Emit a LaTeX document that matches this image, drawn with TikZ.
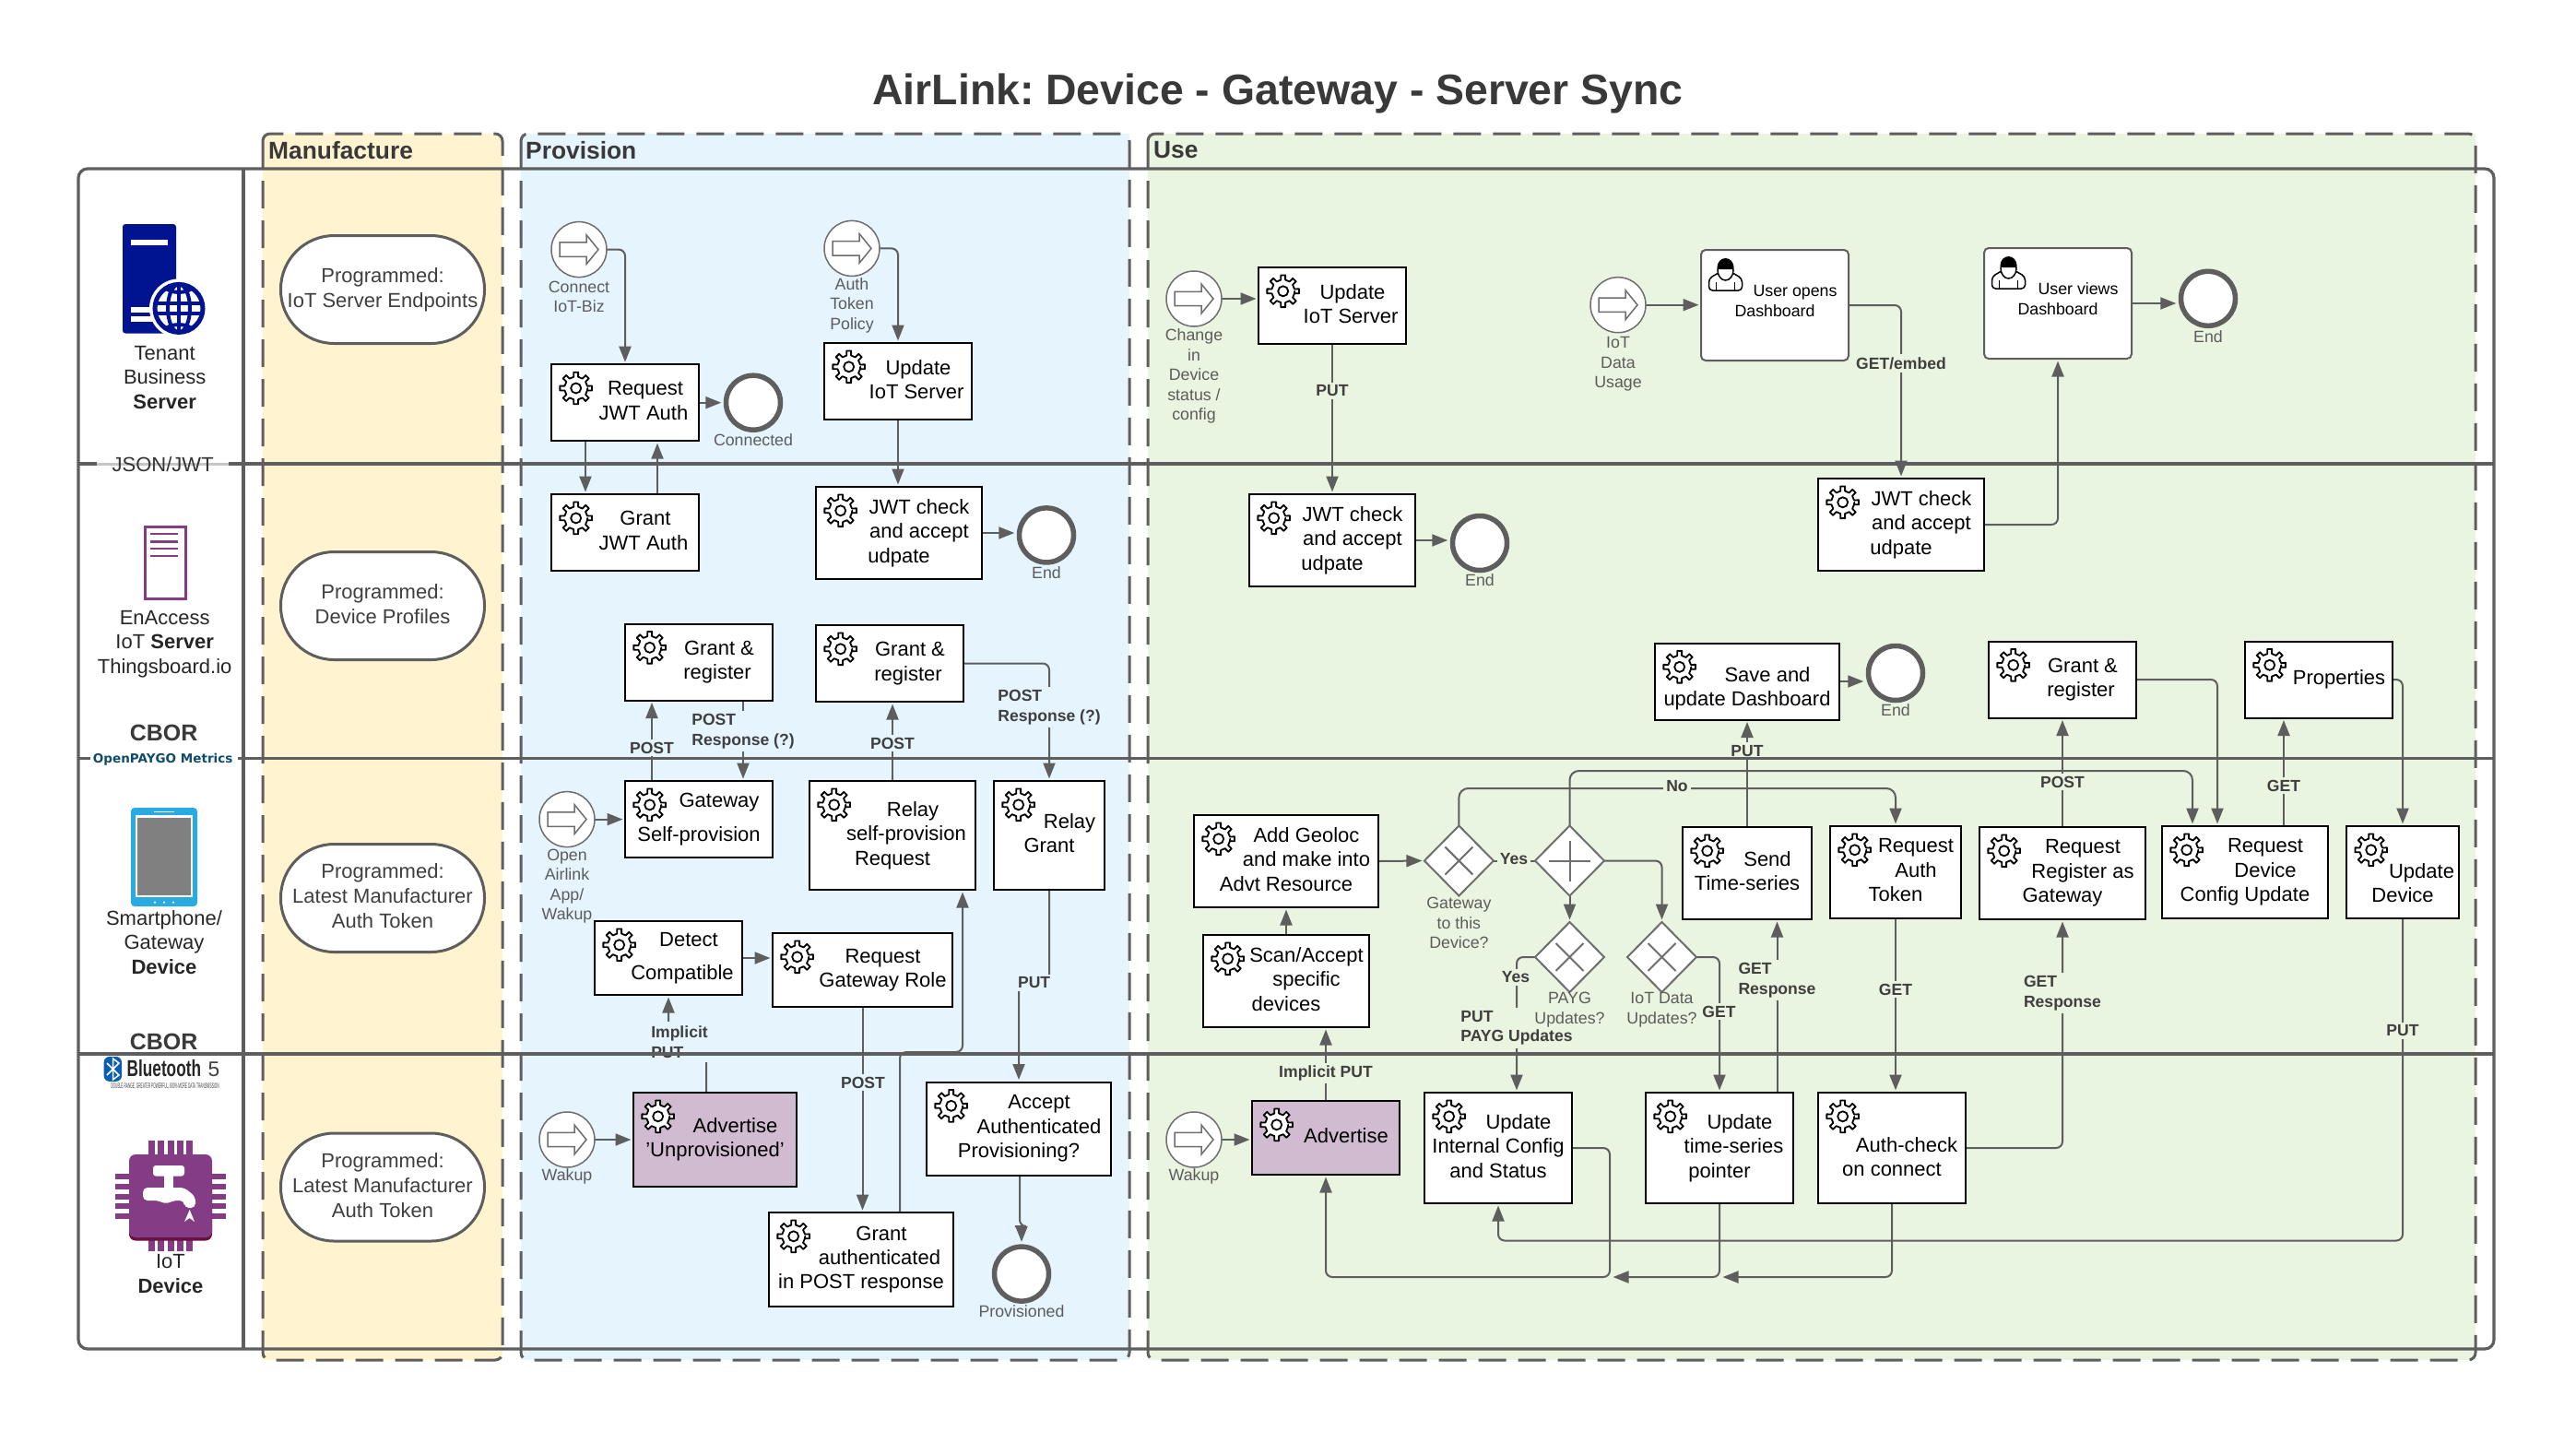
\documentclass[tikz,border=0pt]{standalone}
\usepackage{fontspec}
\usepackage{graphicx}
\setmainfont{Liberation Sans}
\newfontfamily\metricsfont{DejaVu Sans}
\usetikzlibrary{arrows.meta}
\usetikzlibrary{shapes.geometric}
\definecolor{linegray}{HTML}{5E5E5E}
\definecolor{labelgray}{HTML}{3F3F3F}
\definecolor{eventgray}{HTML}{6E6E6E}
\definecolor{makeyellow}{HTML}{FFF3D0}
\definecolor{provblue}{HTML}{E6F4FE}
\definecolor{usegreen}{HTML}{E9F5E0}
\definecolor{advertpurple}{HTML}{D0BBD1}
\definecolor{serverblue}{HTML}{001391}
\definecolor{chippurple}{HTML}{843C85}
\definecolor{chipdark}{HTML}{6B1040}
\definecolor{phoneblue}{HTML}{29ABE2}
\definecolor{metricsblue}{HTML}{0F4C6B}
\definecolor{btblue}{HTML}{0A5EB0}
\pgfdeclarelayer{panels}
\pgfdeclarelayer{wires}
\pgfdeclarelayer{wirelabels}
\pgfdeclarelayer{lanes}
\pgfsetlayers{panels,wires,wirelabels,lanes,main}
\tikzset{
  bodytext/.style={font=\fontsize{6.26pt}{7.51pt}\selectfont},
  smalltext/.style={font=\fontsize{5.06pt}{6.12pt}\selectfont,text=labelgray!85,align=center,inner sep=0},
  task/.style={draw=black,line width=0.02cm,fill=white,rectangle,align=center,inner sep=0,outer sep=0,bodytext,
    execute at end node={\rule[-0.045cm]{0pt}{0pt}}},
  advert/.style={task,fill=advertpurple},
  usertask/.style={task,draw=linegray,rounded corners=0.05cm,font=\fontsize{5.06pt}{6.3pt}\selectfont,
    execute at end node={\rule[-0.1cm]{0pt}{0pt}}},
  programmed/.style={draw=linegray,line width=0.03cm,fill=white,rounded corners=0.58cm,minimum width=2.21cm,minimum height=1.17cm,align=center,inner sep=0,text=labelgray,
    font=\fontsize{6.26pt}{7.7pt}\selectfont,execute at end node={\rule[-0.045cm]{0pt}{0pt}}},
  startevent/.style={circle,draw=eventgray,line width=0.015cm,fill=white,minimum size=0.6cm,inner sep=0,outer sep=0},
  endevent/.style={circle,draw=linegray,line width=0.055cm,fill=white,minimum size=0.59cm,inner sep=0,outer sep=0.0275cm},
  gate/.style={diamond,draw=eventgray,line width=0.02cm,fill=white,minimum width=0.75cm,minimum height=0.76cm,inner sep=0,outer sep=0},
  xgate/.style={gate,path picture={\draw[eventgray,line width=0.02cm] (path picture bounding box.center) ++(-0.15,-0.15) -- ++(0.3,0.3) ++(-0.3,0) -- ++(0.3,-0.3);}},
  plusgate/.style={gate,path picture={\draw[eventgray,line width=0.02cm] (path picture bounding box.center) ++(-0.225,0) -- ++(0.45,0) ++(-0.225,-0.22) -- ++(0,0.44);}},
  wire/.style={draw=linegray,line width=0.02cm,rounded corners=0.07cm},
  flow/.style={wire,-{Triangle[length=0.17cm,width=0.13cm]},shorten >=0.025cm},
  wirelabel/.style={font=\fontsize{5pt}{6.12pt}\bfseries\selectfont,text=labelgray,align=left,inner sep=0.03cm},
  provlabel/.style={wirelabel,fill=provblue},
  uselabel/.style={wirelabel,fill=usegreen},
  laneline/.style={draw=linegray,line width=0.032cm},
  panel/.style={dash pattern=on 0.3cm off 0.13cm,draw=linegray,line width=0.03cm,rounded corners=0.08cm},
  lanetitle/.style={font=\fontsize{7.5pt}{9pt}\bfseries\selectfont,text=labelgray!90!black,anchor=west,inner sep=0},
  sidetext/.style={bodytext,align=center,inner sep=0,text=black!85},
  gearicon/.pic={
    \filldraw[draw=black,fill=white,line width=0.018cm,line join=round]
      (0:0.125) \foreach \a in {0,45,...,315} {
        -- (\a-11:0.125) -- (\a-8:0.175) -- (\a+8:0.175) -- (\a+11:0.125) -- (\a+34:0.125)
      } -- cycle;
    \draw[black,line width=0.018cm] (0,0) circle (0.055);
  },
  starticon/.pic={
    \draw[eventgray,line width=0.015cm,line join=miter,fill=white]
      (-0.21,0.077) -- (0.08,0.077) -- (0.08,0.16) -- (0.21,0) -- (0.08,-0.16) -- (0.08,-0.077) -- (-0.21,-0.077) -- cycle;
  },
  usericon/.pic={
    \draw[black,line width=0.015cm,fill=white,rounded corners=0.04cm]
      (-0.18,-0.17) -- (-0.18,-0.04) -- (-0.06,0.03) -- (0.06,0.03) -- (0.18,-0.04) -- (0.18,-0.17) -- cycle;
    \fill[white] (0,0.05) ellipse (0.085 and 0.11);
    \draw[black,line width=0.015cm] (0,0.05) ellipse (0.085 and 0.11);
    \fill[black] (-0.09,0.08) arc (180:0:0.09 and 0.1) -- (0.07,0.06) -- (-0.07,0.06) -- cycle;
    \draw[black,line width=0.015cm] (-0.1,-0.17) -- (-0.1,-0.08) (0.1,-0.17) -- (0.1,-0.08);
  }
}
\begin{document}
\begin{tikzpicture}
\useasboundingbox (0,0) rectangle (27.94,-15.64);

% Drawing the three phase panels
\begin{pgfonlayer}{panels}
\fill[makeyellow] (2.85,-1.45) rectangle (5.45,-14.75);
\fill[provblue] (5.65,-1.45) rectangle (12.25,-14.75);
\fill[usegreen] (12.45,-1.45) rectangle (26.85,-14.75);
\end{pgfonlayer}

\begin{pgfonlayer}{lanes}
\draw[laneline,rounded corners=0.1cm] (0.85,-1.83) rectangle (27.05,-14.63);
\draw[laneline,line width=0.04cm] (2.64,-1.83) -- (2.64,-14.63);
\draw[black!22,line width=0.03cm] (1.05,-5.03) -- (2.48,-5.03);
\draw[laneline] (0.85,-5.03) -- (1.05,-5.03);
\draw[laneline] (2.48,-5.03) -- (27.05,-5.03);
\draw[laneline] (0.85,-8.225) -- (0.98,-8.225);
\draw[laneline] (2.58,-8.225) -- (27.05,-8.225);
\draw[laneline] (0.85,-11.43) -- (27.05,-11.43);
\draw[panel] (2.85,-1.45) rectangle (5.45,-14.75);
\draw[panel] (5.65,-1.45) rectangle (12.25,-14.75);
\draw[panel] (12.45,-1.45) rectangle (26.85,-14.75);
\end{pgfonlayer}

\node[font=\fontsize{13.2pt}{16pt}\bfseries\selectfont\frenchspacing,text=labelgray!90!black,inner sep=0] (title) at (13.86,-1.01) {AirLink: Device - Gateway - Server Sync};
\node[lanetitle] (titlemake) at (2.905,-1.63) {Manufacture};
\node[lanetitle] (titleprov) at (5.695,-1.63) {Provision};
\node[lanetitle] (titleuse) at (12.505,-1.63) {Use};

% Drawing the left column
\fill[serverblue,rounded corners=0.03cm] (1.33,-3.615) -- (1.33,-2.43) -- (1.91,-2.43) -- (1.91,-3.615) -- cycle;
\fill[white] (1.42,-2.6) rectangle (1.82,-2.66);
\fill[white] (1.42,-3.33) rectangle (1.9,-3.39);
\fill[white] (1.42,-3.43) rectangle (1.9,-3.49);
\fill[white] (1.94,-3.344) circle (0.32);
\draw[serverblue,line width=0.05cm] (1.94,-3.344) circle (0.26);
\begin{scope}
\clip (1.94,-3.344) circle (0.26);
\draw[serverblue,line width=0.04cm] (1.94,-3.344) ellipse (0.12 and 0.26);
\draw[serverblue,line width=0.04cm] (1.94,-3.6) -- (1.94,-3.09);
\draw[serverblue,line width=0.04cm] (1.68,-3.29) -- (2.2,-3.29) (1.68,-3.4) -- (2.2,-3.4);
\draw[serverblue,line width=0.04cm] (1.94,-2.9) circle (0.27) (1.94,-3.79) circle (0.27);
\end{scope}
\node[sidetext] (sideserver) at (1.787,-4.095) {Tenant\\Business\\\textbf{Server}};
\node[sidetext,text=black!80] (sidejson) at (1.767,-5.035) {JSON/JWT};

\draw[chippurple,line width=0.03cm,fill=white] (1.57,-5.71) rectangle (2.01,-6.49);
\foreach \y in {-5.79,-5.874,-5.95,-6.03} {
  \draw[chippurple,line width=0.025cm] (1.63,\y) -- (1.93,\y);
}
\node[sidetext] (sideenaccess) at (1.787,-6.985) {EnAccess\\IoT \textbf{Server}\\Thingsboard.io};
\node[font=\fontsize{7.1pt}{8.5pt}\bfseries\selectfont,text=labelgray!90!black,inner sep=0] (sidecborone) at (1.777,-7.95) {CBOR};
\node[font=\fontsize{3.85pt}{4.6pt}\metricsfont\bfseries\selectfont,text=metricsblue,inner sep=0] (sidemetrics) at (1.767,-8.235) {OpenPAYGO Metrics};

\fill[phoneblue,rounded corners=0.04cm] (1.42,-8.76) rectangle (2.14,-9.83);
\fill[white] (1.47,-8.84) rectangle (2.09,-9.73);
\fill[gray] (1.49,-8.866) rectangle (2.07,-9.705);
\draw[white,line width=0.008cm] (1.67,-8.8) -- (1.89,-8.8);
\foreach \x in {1.68,1.78,1.88} {
  \fill[white] (\x,-9.786) circle (0.012);
}
\node[sidetext] (sidephone) at (1.78,-10.22) {Smartphone/\\Gateway\\\textbf{Device}};
\node[font=\fontsize{7.1pt}{8.5pt}\bfseries\selectfont,text=labelgray!90!black,inner sep=0.02cm,fill=white] (sidecbortwo) at (1.777,-11.3) {CBOR};

\fill[btblue,rounded corners=0.06cm] (1.127,-11.46) rectangle (1.32,-11.728);
\draw[white,line width=0.015cm] (1.16,-11.53) -- (1.29,-11.66) -- (1.225,-11.71) -- (1.225,-11.48) -- (1.29,-11.53) -- (1.16,-11.66);
\node[font=\fontsize{7.1pt}{8pt}\bfseries\selectfont,text=black!85,inner sep=0,anchor=west] (sidebt) at (1.37,-11.59) {\scalebox{0.69}[1]{Bluetooth}};
\node[font=\fontsize{6.5pt}{7pt}\selectfont,text=labelgray,inner sep=0] (sidebtfive) at (2.32,-11.6) {5};
\node[font=\fontsize{2.3pt}{3pt}\selectfont,text=labelgray,inner sep=0] (sidebtnote) at (1.79,-11.786) {\scalebox{0.4}[1]{DOUBLE RANGE, GREATER POWERFUL, 800\% MORE DATA TRANSMISSION}};

\foreach \x in {1.613,1.71,1.82,1.92,2.02} {
  \fill[chippurple] (\x,-12.37) rectangle (\x+0.07,-13.57);
}
\foreach \y in {-12.73,-12.84,-12.945,-13.05,-13.16} {
  \fill[chippurple] (1.247,\y) rectangle (2.45,\y-0.06);
}
\fill[chipdark,rounded corners=0.07cm] (1.4,-12.8) rectangle (2.3,-13.455);
\fill[chippurple,rounded corners=0.07cm] (1.4,-12.52) rectangle (2.3,-13.42);
\fill[white,rounded corners=0.03cm] (1.66,-12.64) rectangle (2.0,-12.755);
\fill[white] (1.78,-12.75) rectangle (1.88,-12.9);
\fill[white,rounded corners=0.05cm] (1.55,-12.88) -- (2.0,-12.88) -- (2.12,-12.98) -- (2.12,-13.1) -- (2.0,-13.1) -- (2.0,-13.02) -- (1.88,-13.02) -- (1.8,-13.06) -- (1.72,-13.02) -- (1.55,-13.02) -- cycle;
\fill[white] (2.057,-13.12) -- (2.11,-13.25) -- (2.057,-13.21) -- (2.0,-13.25) -- cycle;
\node[sidetext] (sideiot) at (1.85,-13.815) {IoT\\\textbf{Device}};

% Drawing the manufacture lane
\node[programmed] (progendpoints) at (4.15,-3.14) {Programmed:\\IoT Server Endpoints};
\node[programmed] (progprofiles) at (4.15,-6.57) {Programmed:\\Device Profiles};
\node[programmed] (progtokena) at (4.15,-9.74) {Programmed:\\Latest Manufacturer\\Auth Token};
\node[programmed] (progtokenb) at (4.15,-12.875) {Programmed:\\Latest Manufacturer\\Auth Token};

% Drawing the provision lane
\node[startevent] (startconnect) at (6.28,-2.706) {};
\node[smalltext] (lblconnect) at (6.28,-3.22) {Connect\\IoT-Biz};
\node[startevent] (starttoken) at (9.24,-2.694) {};
\node[smalltext] (lbltoken) at (9.24,-3.31) {Auth\\Token\\Policy};
\node[task,minimum width=1.6cm,minimum height=0.83cm] (reqjwt) at (6.78,-4.367) {\hspace*{0.44cm}Request\\\hspace*{0.4cm}JWT Auth};
\node[endevent] (endconnected) at (8.17,-4.367) {};
\node[smalltext] (lblconnected) at (8.17,-4.775) {Connected};
\node[task,minimum width=1.6cm,minimum height=0.83cm] (updiotprov) at (9.74,-4.135) {\hspace*{0.44cm}Update\\\hspace*{0.4cm}IoT Server};
\node[task,minimum width=1.6cm,minimum height=0.83cm] (grantjwt) at (6.78,-5.776) {\hspace*{0.44cm}Grant\\\hspace*{0.4cm}JWT Auth};
\node[task,minimum width=1.8cm,minimum height=1.0cm] (jwtprov) at (9.75,-5.78) {\hspace*{0.44cm}JWT check\\\hspace*{0.44cm}and accept\\udpate};
\node[endevent] (endjwtprov) at (11.35,-5.804) {};
\node[smalltext] (lblendjwtprov) at (11.35,-6.21) {End};
\node[task,minimum width=1.6cm,minimum height=0.83cm] (grantrega) at (7.58,-7.18) {\hspace*{0.44cm}Grant \&\\\hspace*{0.4cm}register};
\node[task,minimum width=1.6cm,minimum height=0.83cm] (grantregb) at (9.65,-7.195) {\hspace*{0.44cm}Grant \&\\\hspace*{0.4cm}register};
\node[startevent] (startopen) at (6.15,-8.886) {};
\node[smalltext] (lblopen) at (6.15,-9.61) {Open\\Airlink\\App/\\Wakup};
\node[task,minimum width=1.6cm,minimum height=0.83cm] (gwself) at (7.58,-8.886) {\hspace*{0.44cm}Gateway\\[0.1cm]Self-provision};
\node[task,minimum width=1.8cm,minimum height=1.18cm] (relayself) at (9.68,-9.06) {\hspace*{0.44cm}Relay\\\hspace*{0.3cm}self-provision\\Request};
\node[task,minimum width=1.2cm,minimum height=1.18cm] (relaygrant) at (11.38,-9.06) {\hspace*{0.44cm}Relay\\Grant};
\node[task,minimum width=1.6cm,minimum height=0.8cm] (detect) at (7.25,-10.39) {\hspace*{0.44cm}Detect\\[0.1cm]\hspace*{0.3cm}Compatible};
\node[task,minimum width=1.95cm,minimum height=0.8cm] (reqrole) at (9.355,-10.52) {\hspace*{0.44cm}Request\\\hspace*{0.44cm}Gateway Role};
\node[advert,minimum width=1.77cm,minimum height=1.02cm] (advunprov) at (7.755,-12.36) {\hspace*{0.44cm}Advertise\\'Unprovisioned'};
\node[startevent] (startwakeprov) at (6.15,-12.36) {};
\node[smalltext] (lblwakeprov) at (6.15,-12.76) {Wakup};
\node[task,minimum width=2.0cm,minimum height=1.02cm] (grantauth) at (9.34,-13.66) {\hspace*{0.44cm}Grant\\\hspace*{0.4cm}authenticated\\in POST response};
\node[task,minimum width=2.0cm,minimum height=1.01cm] (accept) at (11.05,-12.24) {\hspace*{0.44cm}Accept\\\hspace*{0.44cm}Authenticated\\Provisioning?};
\node[endevent] (endprov) at (11.08,-13.816) {};
\node[smalltext] (lblendprov) at (11.08,-14.22) {Provisioned};

% Drawing the use lane
\node[startevent] (startchange) at (12.95,-3.24) {};
\node[smalltext] (lblchange) at (12.95,-4.08) {Change\\in\\Device\\status /\\config};
\node[task,minimum width=1.6cm,minimum height=0.83cm] (updiotuse) at (14.45,-3.315) {\hspace*{0.44cm}Update\\\hspace*{0.4cm}IoT Server};
\node[task,minimum width=1.8cm,minimum height=1.0cm] (jwtuse) at (14.45,-5.86) {\hspace*{0.44cm}JWT check\\\hspace*{0.44cm}and accept\\udpate};
\node[endevent] (endjwtuse) at (16.05,-5.89) {};
\node[smalltext] (lblendjwtuse) at (16.05,-6.29) {End};
\node[startevent] (startusage) at (17.55,-3.307) {};
\node[smalltext] (lblusage) at (17.55,-3.95) {IoT\\Data\\Usage};
\node[usertask,minimum width=1.6cm,minimum height=1.2cm] (useropens) at (19.25,-3.31) {\hspace*{0.44cm}User opens\\Dashboard};
\node[usertask,minimum width=1.6cm,minimum height=1.2cm] (userviews) at (22.32,-3.29) {\hspace*{0.44cm}User views\\Dashboard};
\node[endevent] (enduser) at (23.95,-3.238) {};
\node[smalltext] (lblenduser) at (23.95,-3.647) {End};
\node[task,minimum width=1.8cm,minimum height=1.0cm] (jwtdash) at (20.62,-5.69) {\hspace*{0.44cm}JWT check\\\hspace*{0.44cm}and accept\\udpate};
\node[task,minimum width=2.0cm,minimum height=0.83cm] (savedash) at (18.95,-7.39) {\rule{0pt}{0.31cm}\hspace*{0.44cm}Save and\\update Dashboard};
\node[endevent] (endsave) at (20.56,-7.3) {};
\node[smalltext] (lblendsave) at (20.56,-7.704) {End};
\node[task,minimum width=1.6cm,minimum height=0.83cm] (grantreguse) at (22.37,-7.37) {\hspace*{0.44cm}Grant \&\\\hspace*{0.4cm}register};
\node[task,minimum width=1.6cm,minimum height=0.83cm] (properties) at (25.15,-7.37) {\hspace*{0.44cm}Properties};
\node[task,minimum width=2.0cm,minimum height=1.0cm] (geoloc) at (13.95,-9.34) {\hspace*{0.44cm}Add Geoloc\\\hspace*{0.44cm}and make into\\Advt Resource};
\node[task,minimum width=1.8cm,minimum height=1.0cm] (scan) at (13.95,-10.64) {\hspace*{0.44cm}Scan/Accept\\\hspace*{0.44cm}specific\\devices};
\node[xgate] (gwgate) at (15.824,-9.335) {};
\node[smalltext] (lblgwgate) at (15.824,-10.01) {Gateway\\to this\\Device?};
\node[plusgate] (plusgw) at (17.025,-9.335) {};
\node[xgate] (payggate) at (17.025,-10.38) {};
\node[smalltext] (lblpayg) at (17.025,-10.95) {PAYG\\Updates?};
\node[xgate] (iotgate) at (18.025,-10.38) {};
\node[smalltext] (lbliotdata) at (18.025,-10.95) {IoT Data\\Updates?};
\node[task,minimum width=1.4cm,minimum height=1.0cm] (sendts) at (18.95,-9.47) {\hspace*{0.44cm}Send\\Time-series};
\node[task,minimum width=1.42cm,minimum height=1.0cm] (reqauth) at (20.56,-9.46) {\hspace*{0.44cm}Request\\\hspace*{0.44cm}Auth\\Token};
\node[task,minimum width=1.8cm,minimum height=1.0cm] (reqreg) at (22.37,-9.47) {\hspace*{0.44cm}Request\\\hspace*{0.44cm}Register as\\Gateway};
\node[task,minimum width=1.8cm,minimum height=1.0cm] (reqcfg) at (24.35,-9.46) {\hspace*{0.44cm}Request\\\hspace*{0.44cm}Device\\Config Update};
\node[task,minimum width=1.22cm,minimum height=1.0cm] (upddev) at (26.06,-9.46) {\rule{0pt}{0.44cm}\hspace*{0.41cm}Update\\Device};
\node[startevent] (startwakeuse) at (12.95,-12.36) {};
\node[smalltext] (lblwakeuse) at (12.95,-12.76) {Wakup};
\node[advert,minimum width=1.6cm,minimum height=0.8cm] (advuse) at (14.38,-12.34) {\hspace*{0.44cm}Advertise};
\node[task,minimum width=1.6cm,minimum height=1.2cm] (updcfg) at (16.25,-12.45) {\hspace*{0.44cm}Update\\Internal Config\\and Status};
\node[task,minimum width=1.6cm,minimum height=1.2cm] (updts) at (18.65,-12.45) {\hspace*{0.44cm}Update\\\hspace*{0.31cm}time-series\\pointer};
\node[task,minimum width=1.6cm,minimum height=1.2cm] (authcheck) at (20.52,-12.45) {\rule{0pt}{0.4cm}\hspace*{0.32cm}Auth-check\\on connect};

% Drawing the icons inside the tasks and events
\foreach \n in {reqjwt,updiotprov,grantjwt,jwtprov,grantrega,grantregb,gwself,relayself,relaygrant,detect,reqrole,advunprov,grantauth,accept,updiotuse,jwtuse,jwtdash,savedash,grantreguse,properties,geoloc,scan,sendts,reqauth,reqreg,reqcfg,upddev,advuse,updcfg,updts,authcheck} {
  \pic at ([shift={(0.267,-0.258)}]\n.north west) {gearicon};
}
\foreach \n in {startconnect,starttoken,startopen,startwakeprov,startchange,startusage,startwakeuse} {
  \pic at (\n) {starticon};
}
\foreach \n in {useropens,userviews} {
  \pic at ([shift={(0.265,-0.27)}]\n.north west) {usericon};
}

% Drawing the connectors
\begin{pgfonlayer}{wires}
\draw[flow] (startconnect.east) -| (reqjwt.north);
\draw[flow] (reqjwt.east) -- (endconnected.west);
\draw[flow] ([xshift=0.37cm]reqjwt.south west) -- ([xshift=0.37cm]reqjwt.south west |- grantjwt.north);
\draw[flow] ([xshift=-0.45cm]grantjwt.north east) -- ([xshift=-0.45cm]grantjwt.north east |- reqjwt.south);
\draw[flow] (starttoken.east) -| (updiotprov.north);
\draw[flow] (updiotprov.south) -- (updiotprov.south |- jwtprov.north);
\draw[flow] (jwtprov.east) -- (jwtprov.east -| endjwtprov.west);
\draw[flow] ([xshift=-1.31cm]gwself.north east) -- ([xshift=-1.31cm]grantrega.south east);
\draw[flow] ([xshift=-0.32cm]grantrega.south east) -- ([xshift=-0.32cm]gwself.north east);
\draw[flow] (relayself.north) -- (relayself.north |- grantregb.south);
\draw[flow] (grantregb.east) -| (relaygrant.north);
\draw[flow] (startopen.east) -- (gwself.west);
\draw[flow] (detect.east) -- (detect.east -| reqrole.west);
\draw[flow] ([xshift=-0.095cm]advunprov.north) |- (7.25,-11.28) -- (detect.south);
\draw[flow] (startwakeprov.east) -- (advunprov.west);
\draw[flow] (reqrole.south) -- (reqrole.south |- grantauth.north);
\draw[flow] ([xshift=0.42cm]grantauth.north) |- (10.44,-11.41) -- ([xshift=0.76cm]relayself.south);
\draw[flow] (relaygrant.south) |- (11.05,-10.66) -- (accept.north);
\draw[flow] ([xshift=0.01cm]accept.south) |- (11.08,-13.3) -- (endprov.north);

\draw[flow] (startchange.east) -- (startchange.east -| updiotuse.west);
\draw[flow] (updiotuse.south) -- (jwtuse.north);
\draw[flow] (jwtuse.east) -- (jwtuse.east -| endjwtuse.west);
\draw[flow] (startusage.east) -- (startusage.east -| useropens.west);
\draw[flow] (useropens.east) -| (jwtdash.north);
\draw[flow] (jwtdash.east) -| (userviews.south);
\draw[flow] (userviews.east) -- (userviews.east -| enduser.west);
\draw[flow] (savedash.east) -- (savedash.east -| endsave.west);
\draw[flow] (startwakeuse.east) -- (startwakeuse.east -| advuse.west);
\draw[flow] (advuse.north) -- (advuse.north |- scan.south);
\draw[flow] (scan.north) -- (geoloc.south);
\draw[flow] (geoloc.east) -- (gwgate.west);
\draw[wire] (gwgate.east) -- (plusgw.west);
\draw[flow,rounded corners=0.1cm] (gwgate.north) |- (20.56,-8.55) -- (reqauth.north);
\draw[flow,rounded corners=0.1cm] (plusgw.north) |- (23.78,-8.36) -- ([xshift=-0.57cm]reqcfg.north);
\draw[flow] (plusgw.south) -- (payggate.north);
\draw[flow] (plusgw.east) -| (iotgate.north);
\draw[flow] (payggate.west) -| ([xshift=0.2cm]updcfg.north);
\draw[flow] (iotgate.east) -| (updts.north);
\draw[flow] ([xshift=0.625cm]updts.north) -- ([xshift=0.625cm]updts.north |- sendts.south);
\draw[flow] (sendts.north) -- (sendts.north |- savedash.south);
\draw[flow] (reqauth.south) -- (reqauth.south |- authcheck.north);
\draw[flow] (authcheck.east) -| (reqreg.south);
\draw[flow] (reqreg.north) -- (grantreguse.south);
\draw[flow] (grantreguse.east) -| ([xshift=-0.3cm]reqcfg.north);
\draw[flow] ([xshift=0.42cm]reqcfg.north) -- ([xshift=0.42cm]reqcfg.north |- properties.south);
\draw[flow] (properties.east) -| (upddev.north);
\draw[flow] (upddev.south) |- (16.25,-13.455) -- (updcfg.south);
\draw[flow] (updcfg.east) -| (17.46,-13.85) -| (advuse.south);
\draw[flow] (updts.south) |- (17.47,-13.85);
\draw[flow] (authcheck.south) |- (18.66,-13.85);
\end{pgfonlayer}

% Drawing the connector labels
\begin{pgfonlayer}{wirelabels}
\node[provlabel] (postgw) at (7.07,-8.11) {POST};
\node[provlabel] (respgw) at (8.06,-7.93) {POST\\Response (?)};
\node[provlabel] (postrelay) at (9.68,-8.06) {POST};
\node[provlabel] (resprelay) at (11.38,-7.67) {POST\\Response (?)};
\node[provlabel,minimum width=0.66cm,inner ysep=0.05cm] (implicitprov) at (7.37,-11.3) {Implicit\\PUT};
\node[provlabel] (putaccept) at (11.216,-10.66) {PUT};
\node[provlabel] (postrole) at (9.36,-11.74) {POST};
\node[uselabel] (putiot) at (14.45,-4.24) {PUT};
\node[uselabel] (getembed) at (20.62,-3.94) {GET/embed};
\node[uselabel] (putsave) at (18.95,-8.144) {PUT};
\node[uselabel] (postreg) at (22.37,-8.48) {POST};
\node[uselabel] (getcfg) at (24.77,-8.52) {GET};
\node[uselabel] (lblno) at (18.19,-8.524) {No};
\node[uselabel] (lblyesa) at (16.42,-9.315) {Yes};
\node[uselabel] (lblyesb) at (16.44,-10.6) {Yes};
\node[uselabel] (putpayg) at (16.45,-11.15) {PUT\\PAYG Updates};
\node[uselabel] (getts) at (18.645,-10.97) {GET};
\node[uselabel] (respts) at (19.275,-10.63) {GET\\Response};
\node[uselabel] (getauth) at (20.56,-10.73) {GET};
\node[uselabel] (respreg) at (22.37,-10.77) {GET\\Response};
\node[uselabel] (putdev) at (26.06,-11.18) {PUT};
\node[uselabel] (implicituse) at (14.38,-11.64) {Implicit PUT};
\end{pgfonlayer}

\end{tikzpicture}
\end{document}
